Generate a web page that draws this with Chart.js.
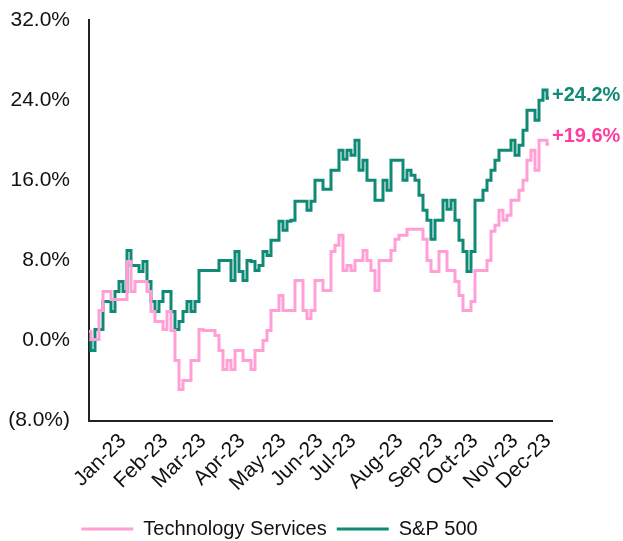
<!DOCTYPE html>
<html>
<head>
<meta charset="utf-8">
<script src="https://cdn.jsdelivr.net/npm/chart.js@4.4.1/dist/chart.umd.min.js"></script>
<style>
  html, body { margin: 0; padding: 0; background: #fff; }
  #wrap { width: 623px; height: 541px; }
</style>
</head>
<body>
<div id="wrap"><canvas id="grafico" width="623" height="541"></canvas></div>
<script>
// Retorno acumulado (%) - uma leitura a cada ~2 pregões, de dez/22 a dez/23
const techServices = [
  0.9, 0.1, 0.1, 3.0, 4.9, 4.9, 4.1, 4.1, 4.1, 4.1,
  7.9, 4.9, 5.9, 5.9, 5.9, 4.9, 2.9, 1.9, 1.9, 1.1,
  2.9, 1.0, -2.0, -4.9, -4.0, -4.0, -2.0, -2.0, 1.1, 1.0,
  1.0, 1.0, 0.5, -1.0, -2.9, -2.0, -2.9, -1.0, -1.0, -2.0,
  -2.0, -2.9, -1.0, -1.0, 0.0, 1.0, 3.0, 3.0, 4.5, 3.0,
  3.0, 3.0, 6.0, 6.0, 3.0, 2.2, 3.0, 6.0, 6.0, 5.0,
  5.0, 8.9, 9.5, 10.5, 7.0, 7.5, 7.0, 8.0, 8.0, 9.0,
  8.0, 7.0, 5.0, 8.0, 8.0, 8.0, 9.0, 10.1, 10.5, 10.5,
  11.1, 11.1, 11.1, 11.1, 10.1, 8.0, 6.9, 6.9, 8.9, 8.9,
  7.0, 7.0, 5.9, 4.5, 3.0, 3.0, 3.9, 7.0, 7.0, 7.0,
  8.0, 10.9, 11.5, 13.0, 12.0, 12.5, 14.0, 14.0, 15.0, 16.0,
  18.0, 19.0, 17.0, 20.0, 20.0, 19.6
];
const sp500 = [
  0.0, -1.0, 1.1, 1.1, 3.9, 3.9, 2.9, 4.9, 5.9, 4.9,
  9.0, 7.5, 7.5, 6.9, 7.9, 5.9, 3.9, 2.9, 3.9, 4.9,
  4.9, 2.9, 1.1, 1.9, 2.9, 3.9, 2.9, 3.9, 7.0, 7.0,
  7.0, 7.0, 7.0, 8.0, 8.0, 8.0, 6.0, 8.9, 6.9, 6.0,
  8.0, 7.9, 7.0, 7.5, 8.9, 8.5, 10.0, 10.0, 11.9, 11.0,
  11.9, 12.0, 13.9, 13.9, 13.9, 13.0, 13.9, 16.0, 16.0, 15.1,
  15.1, 17.0, 17.0, 19.0, 18.1, 19.0, 18.5, 20.0, 17.0, 18.0,
  16.0, 16.0, 14.0, 14.0, 16.0, 15.0, 18.0, 18.0, 18.0, 16.0,
  17.0, 16.5, 16.0, 14.5, 13.0, 12.0, 10.1, 12.0, 12.0, 14.0,
  13.1, 14.0, 12.0, 10.0, 8.9, 6.9, 8.9, 14.0, 14.0, 15.0,
  16.0, 17.0, 18.0, 19.0, 19.0, 19.0, 20.0, 18.5, 19.5, 21.0,
  23.0, 23.0, 22.0, 24.0, 25.0, 24.2
];

// Rótulos de mês e o ponto da série onde cada um cai
const mesesLabels = ['Jan-23', 'Feb-23', 'Mar-23', 'Apr-23', 'May-23', 'Jun-23',
  'Jul-23', 'Aug-23', 'Sep-23', 'Oct-23', 'Nov-23', 'Dec-23'];
const mesesPos = [8.5, 19, 28.5, 38.25, 48.5, 57.75, 66, 77.75, 87.75, 96.5, 106.5, 114.75];

const yTicks = [-8, 0, 8, 16, 24, 32];

const corTech = '#ff9fd6';
const corTechTexto = '#ff3d9e';
const corSP = '#0e8a76';
const fonte = '"Liberation Sans", Arial, sans-serif';

function formatarPct(v) {
  return v < 0 ? '(' + Math.abs(v).toFixed(1) + '%)' : v.toFixed(1) + '%';
}

// Escreve o último valor de cada série logo após o fim da linha
const rotuloFinal = {
  id: 'rotuloFinal',
  afterLayout(chart) {
    // legenda um pouco mais perto do rodapé
    chart.legend.top += 8;
    chart.legend.bottom += 8;
  },
  afterDatasetsDraw(chart) {
    const ctx = chart.ctx;
    chart.data.datasets.forEach((ds, i) => {
      const meta = chart.getDatasetMeta(i);
      const pt = meta.data[meta.data.length - 1];
      const v = ds.data[ds.data.length - 1].y;
      ctx.save();
      ctx.font = 'bold 20px ' + fonte;
      ctx.fillStyle = ds.corRotulo;
      ctx.textAlign = 'left';
      ctx.textBaseline = 'middle';
      ctx.fillText('+' + v.toFixed(1) + '%', pt.x + 3, pt.y + ds.deslocRotulo);
      ctx.restore();
    });
  }
};

const ctx = document.getElementById('grafico').getContext('2d');
new Chart(ctx, {
  type: 'line',
  data: {
    datasets: [
      {
        label: 'Technology Services',
        data: techServices.map((v, i) => ({ x: i, y: v })),
        borderColor: corTech,
        backgroundColor: corTech,
        borderWidth: 3,
        pointRadius: 0,
        stepped: 'middle',
        corRotulo: corTechTexto,
        deslocRotulo: -8,
      },
      {
        label: 'S&P 500',
        data: sp500.map((v, i) => ({ x: i, y: v })),
        borderColor: corSP,
        backgroundColor: corSP,
        borderWidth: 3,
        pointRadius: 0,
        stepped: 'middle',
        corRotulo: corSP,
        deslocRotulo: -3,
      },
    ],
  },
  options: {
    responsive: false,
    animation: false,
    layout: { padding: { top: 20, right: 71, left: 7, bottom: 0 } },
    plugins: {
      legend: {
        position: 'bottom',
        labels: {
          color: '#111',
          font: { family: fonte, size: 20 },
          boxWidth: 52,
          boxHeight: 0,
          padding: 10,
        },
      },
      tooltip: { enabled: false },
    },
    scales: {
      x: {
        type: 'linear',
        min: 0,
        max: 115.75,
        grid: { display: false, drawTicks: false },
        border: { display: true, color: '#222', width: 2 },
        afterBuildTicks: (axis) => {
          axis.ticks = mesesPos.map(p => ({ value: p }));
        },
        afterFit: (axis) => {
          axis.paddingLeft = 0;
          axis.paddingRight = 0;
          axis.height = axis.height - 3;
        },
        ticks: {
          autoSkip: false,
          minRotation: 45,
          maxRotation: 45,
          padding: 8,
          color: '#111',
          font: { family: fonte, size: 21 },
          callback: (value, index) => mesesLabels[index],
        },
      },
      y: {
        min: -8,
        max: 32,
        grid: { display: false, drawTicks: false },
        border: { display: true, color: '#222', width: 2 },
        afterBuildTicks: (axis) => {
          axis.ticks = yTicks.map(v => ({ value: v }));
        },
        afterFit: (axis) => {
          axis.paddingTop = 0;
          axis.paddingBottom = 0;
          axis.width = 82;
        },
        ticks: {
          padding: 19,
          color: '#111',
          font: { family: fonte, size: 21 },
          callback: (value) => formatarPct(value),
        },
      },
    },
  },
  plugins: [rotuloFinal],
});
</script>
</body>
</html>
